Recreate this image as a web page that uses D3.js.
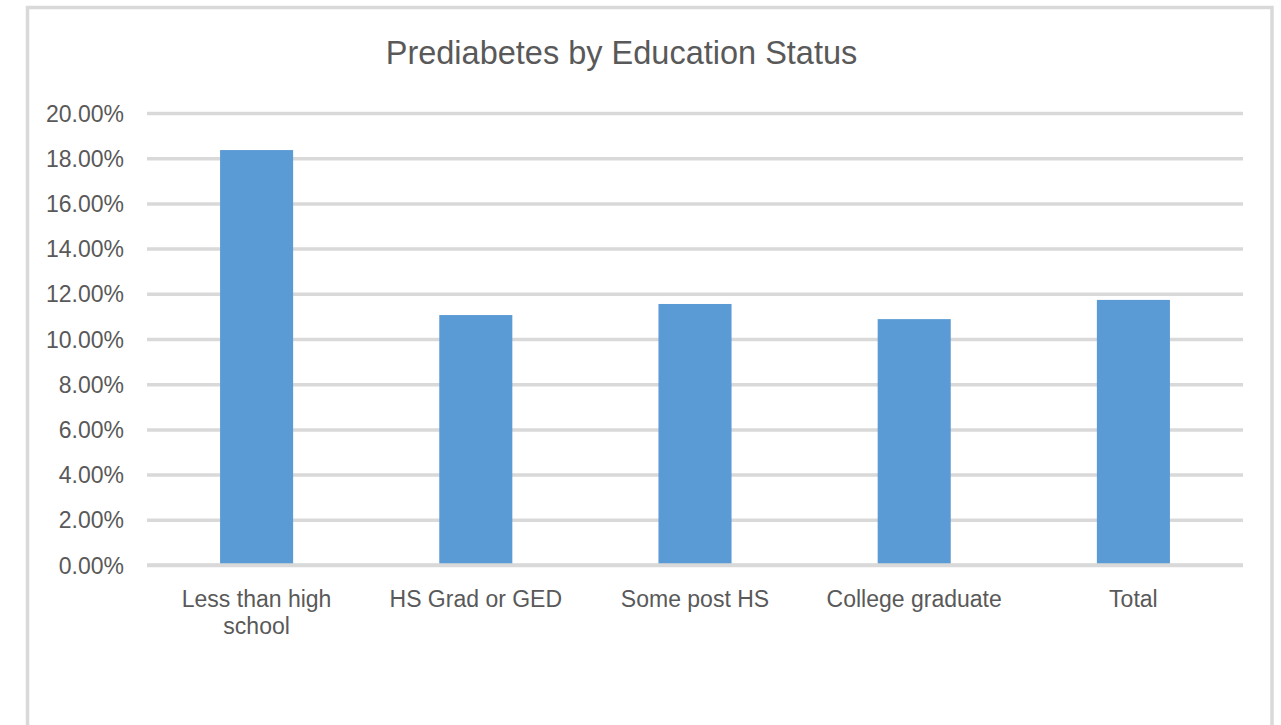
<!DOCTYPE html>
<html>
<head>
<meta charset="utf-8">
<script src="https://cdn.jsdelivr.net/npm/d3@7"></script>
<style>
  html, body { margin: 0; padding: 0; background: #fff; }
  svg { display: block; }
</style>
</head>
<body>
<svg id="chart" width="1281" height="725"></svg>
<script>
const title = "Prediabetes by Education Status";
const categories = [["Less than high", "school"], ["HS Grad or GED"], ["Some post HS"], ["College graduate"], ["Total"]];
const categoryKeys = ["Less than high school", "HS Grad or GED", "Some post HS", "College graduate", "Total"];
const values = [0.1836, 0.1106, 0.1155, 0.1088, 0.1173];
const yTicks = [0, 0.02, 0.04, 0.06, 0.08, 0.10, 0.12, 0.14, 0.16, 0.18, 0.20];

const svg = d3.select("#chart");
const W = 1281, H = 725;
const font = "'Liberation Sans', Arial, sans-serif";
const textColor = "#595959";
const gridColor = "#d9d9d9";

svg.append("rect").attr("width", W).attr("height", H).attr("fill", "#fff");

// chart border
svg.append("rect")
  .attr("x", 27.5).attr("y", 7.5)
  .attr("width", 1272 - 27.5).attr("height", 760)
  .attr("fill", "none").attr("stroke", gridColor).attr("stroke-width", 3.5);

const plot = { left: 147, right: 1243, top: 113, bottom: 565 };

const x = d3.scaleBand()
  .domain(categoryKeys)
  .range([plot.left, plot.right])
  .paddingInner(2 / 3)
  .paddingOuter(1 / 3);

const y = d3.scaleLinear().domain([0, 0.20]).range([plot.bottom, plot.top]);

// gridlines
const yAxis = d3.axisLeft(y)
  .tickValues(yTicks)
  .tickSize(-(plot.right - plot.left))
  .tickPadding(23)
  .tickFormat(d3.format(".2%"));

const gy = svg.append("g")
  .attr("transform", `translate(${plot.left},0)`)
  .call(yAxis);
gy.select(".domain").remove();
gy.selectAll(".tick line").attr("stroke", gridColor).attr("stroke-width", 3.5);
gy.selectAll(".tick text")
  .attr("fill", textColor)
  .attr("font-family", font)
  .attr("font-size", 23)
  .attr("dy", "0.35em");

// bars
svg.append("g").selectAll("rect")
  .data(values)
  .join("rect")
  .attr("x", (d, i) => x(categoryKeys[i]))
  .attr("width", x.bandwidth())
  .attr("y", d => y(d))
  .attr("height", d => y(0) - y(d))
  .attr("fill", "#5b9bd5");

// x axis line on top
const xAxis = d3.axisBottom(x).tickSize(0).tickFormat("");
const gx = svg.append("g")
  .attr("transform", `translate(0,${y(0)})`)
  .call(xAxis);
gx.select(".domain").attr("stroke", gridColor).attr("stroke-width", 3.5)
  .attr("d", `M${plot.left},0H${plot.right}`);

// category labels
const labels = svg.append("g").selectAll("text")
  .data(categories)
  .join("text")
  .attr("x", (d, i) => x(categoryKeys[i]) + x.bandwidth() / 2)
  .attr("y", 607)
  .attr("text-anchor", "middle")
  .attr("fill", textColor)
  .attr("font-family", font)
  .attr("font-size", 23);
labels.selectAll("tspan")
  .data(d => d)
  .join("tspan")
  .attr("x", function() { return d3.select(this.parentNode).attr("x"); })
  .attr("dy", (d, i) => i === 0 ? 0 : 27)
  .text(d => d);

// title
svg.append("text")
  .attr("x", 621.5)
  .attr("y", 64)
  .attr("text-anchor", "middle")
  .attr("fill", textColor)
  .attr("font-family", font)
  .attr("font-size", 32.5)
  .text(title);
</script>
</body>
</html>
